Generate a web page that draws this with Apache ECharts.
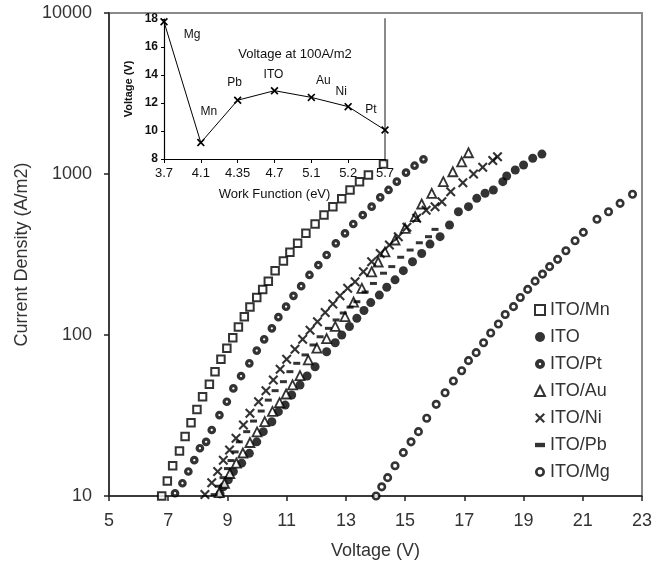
<!DOCTYPE html>
<html>
<head>
<meta charset="utf-8">
<script src="https://cdn.jsdelivr.net/npm/echarts@6/dist/echarts.min.js"></script>
<style>
html,body{margin:0;padding:0;background:#fff;}
#chart{width:665px;height:565px;}
</style>
</head>
<body>
<div id="chart"></div>
<script>
// ---------- data ----------
const voltageTicks = [5, 7, 9, 11, 13, 15, 17, 19, 21, 23];
const densityTicks = [10, 100, 1000, 10000];

const mnV = [6.78,6.97,7.15,7.38,7.57,7.77,7.97,8.16,8.39,8.58,8.78,8.98,9.18,9.37,9.57,9.76,9.99,10.19,10.38,10.61,10.89,11.11,11.37,11.65,11.96,12.26,12.56,12.86,13.14,13.46,13.76,14.27];
const mnJ = [10,12.4,15.4,19.0,23.4,28.5,34.5,41.4,49.4,59.2,70.6,82.6,96.2,112,130,149,171,192,216,251,288,326,371,428,489,556,627,703,796,896,986,1154];

const itoV = [8.75,8.86,9.03,9.20,9.48,9.74,9.99,10.21,10.50,10.72,10.95,11.17,11.45,11.69,11.96,12.35,12.64,12.86,13.12,13.37,13.61,13.84,14.13,14.38,14.66,14.94,15.25,15.56,15.84,16.18,16.50,16.80,17.14,17.42,17.70,17.98,18.30,18.43,18.72,19.00,19.31,19.62];
const itoJ = [10.3,11.4,12.6,14.2,16.0,18.4,21.7,25.1,28.9,33.4,36.7,42.4,48.9,55.6,63.5,78.7,89.5,100,113,127,142,159,177,198,220,251,285,321,367,408,482,583,627,706,759,796,896,972,1059,1137,1253,1330];

const ptV = [7.23,7.48,7.68,7.88,8.07,8.28,8.47,8.73,8.98,9.20,9.46,9.74,9.99,10.24,10.50,10.72,10.98,11.23,11.49,11.77,12.07,12.35,12.66,12.97,13.25,13.57,13.87,14.16,14.44,14.72,15.03,15.32,15.62];
const ptJ = [10.4,12.0,14.2,16.7,19.8,21.7,25.7,31.8,38.5,46.6,55.6,66.7,80.0,94.0,110,129,150,175,201,236,272,314,371,428,489,556,627,716,796,896,1019,1126,1233];

const auV = [8.72,8.90,9.08,9.30,9.52,9.76,10.00,10.26,10.52,10.76,10.98,11.20,11.45,11.73,12.02,12.35,12.64,12.97,13.26,13.54,13.87,14.09,14.32,14.66,15.00,15.34,15.56,15.90,16.29,16.61,16.91,17.14];
const auJ = [10.5,12.0,13.8,16.0,18.5,21.5,25,29,33.5,38,43,49,56,70,83,95,113,130,160,195,247,284,328,389,460,543,651,759,896,1033,1191,1355];

const niV = [8.24,8.47,8.67,8.86,9.07,9.29,9.54,9.76,10.05,10.30,10.55,10.78,11.00,11.28,11.54,11.79,12.04,12.30,12.56,12.80,13.06,13.31,13.59,13.87,14.16,14.47,14.77,15.06,15.39,15.71,16.01,16.24,16.54,16.95,17.31,17.62,17.96,18.12];
const niJ = [10.2,12.1,14.2,16.7,19.3,22.8,27.6,32.6,38.5,45.1,52.5,61.2,70.6,81.5,94.0,107,121,138,156,175,195,214,247,285,321,362,408,467,531,595,627,673,776,883,1000,1102,1211,1280];

const pbV = [8.55,8.70,8.85,9.00,9.12,9.26,9.40,9.65,9.88,10.14,10.38,10.61,10.89,11.11,11.34,11.62,11.89,12.13,12.41,12.67,12.91,13.14,13.37,13.65,13.93,14.27,14.55,14.85,15.17,15.48,15.79,16.01];
const pbJ = [10.2,11.5,13.0,14.8,16.6,18.8,21.7,25.1,29.2,33.7,39.4,45.1,51.3,59.2,66.7,75.2,86.7,97.5,110,124,137,149,161,185,209,242,266,304,337,374,408,453];

const mgV = [14.02,14.21,14.41,14.66,14.94,15.20,15.45,15.73,16.05,16.35,16.63,16.91,17.14,17.40,17.65,17.89,18.15,18.38,18.66,18.89,19.14,19.39,19.64,19.88,20.15,20.43,20.74,21.02,21.48,21.87,22.26,22.68];
const mgJ = [10,11.4,13.0,15.4,18.6,21.7,25.1,30.4,37.1,43.8,51.8,60.0,69.3,77.7,89.6,103,117,134,150,171,192,216,239,266,295,334,385,434,523,583,657,748];

// inset
const workFunction = ['3.7', '4.1', '4.35', '4.7', '5.1', '5.2', '5.7'];
const insetVoltage = [17.8, 9.17, 12.2, 12.88, 12.4, 11.74, 10.07];
const insetLabels = ['Mg', 'Mn', 'Pb', 'ITO', 'Au', 'Ni', 'Pt'];

// ---------- layout / style (not data) ----------
const insetLabelOffsets = [[28,13],[8,-31],[-3,-18],[-1,-16],[12,-17],[-7,-15],[-14,-20]];
const FONT = '"Liberation Sans", Arial, sans-serif';
const TXT = '#333';
const crossPath = 'path://M0,1.5 L1.5,0 L5,3.5 L8.5,0 L10,1.5 L6.5,5 L10,8.5 L8.5,10 L5,6.5 L1.5,10 L0,8.5 L3.5,5 Z';
const dashPath = 'path://M0,0 L8,0 L8,3.5 L0,3.5 Z';
const ringPath = 'path://M5,0 A5,5 0 1,1 4.99,0 Z M5,2.6 A2.4,2.4 0 1,0 5.01,2.6 Z';
const dotHolePath = 'path://M5,0 A5,5 0 1,1 4.99,0 Z M5,3.8 A1.2,1.2 0 1,0 5.01,3.8 Z';

function pairs(xs, ys) { return xs.map((x, i) => [x, ys[i]]); }

const seriesDefs = [
  { name: 'ITO/Mn', v: mnV, j: mnJ, symbol: 'rect', size: 7.5, style: { color: '#fff', borderColor: '#000', borderWidth: 2 } },
  { name: 'ITO', v: itoV, j: itoJ, symbol: 'circle', size: 9, style: { color: '#000' } },
  { name: 'ITO/Pt', v: ptV, j: ptJ, symbol: 'circle', size: 5.5, style: { color: '#fff', borderColor: '#000', borderWidth: 3.2 } },
  { name: 'ITO/Au', v: auV, j: auJ, symbol: 'triangle', size: 9, style: { color: '#fff', borderColor: '#000', borderWidth: 1.8 } },
  { name: 'ITO/Ni', v: niV, j: niJ, symbol: crossPath, size: 10, style: { color: '#000' } },
  { name: 'ITO/Pb', v: pbV, j: pbJ, symbol: 'rect', size: [7, 3], style: { color: '#000' } },
  { name: 'ITO/Mg', v: mgV, j: mgJ, symbol: 'circle', size: 6.5, style: { color: '#fff', borderColor: '#000', borderWidth: 2.6 } }
];

const legendIcons = {
  'ITO/Pt': { icon: dotHolePath, itemStyle: { color: '#000', borderWidth: 0 } },
  'ITO/Pb': { icon: dashPath },
  'ITO/Mg': { icon: ringPath, itemStyle: { color: '#000', borderWidth: 0 } }
};

const series = seriesDefs.map(d => ({
  name: d.name,
  type: 'scatter',
  xAxisIndex: 0,
  yAxisIndex: 0,
  symbol: d.symbol,
  symbolSize: d.size,
  itemStyle: d.style,
  data: pairs(d.v, d.j),
  z: 5
}));

series.push({
  name: 'inset',
  type: 'line',
  xAxisIndex: 1,
  yAxisIndex: 1,
  symbol: crossPath,
  symbolSize: 8,
  itemStyle: { color: '#000' },
  lineStyle: { color: '#000', width: 1 },
  data: insetVoltage.map((v, i) => ({
    value: v,
    label: {
      show: true,
      formatter: insetLabels[i],
      position: 'inside',
      offset: insetLabelOffsets[i],
      color: '#111',
      fontSize: 12,
      fontFamily: FONT
    }
  })),
  z: 6
});

const chart = echarts.init(document.getElementById('chart'), null, { renderer: 'canvas' });
chart.setOption({
  animation: false,
  backgroundColor: '#fff',
  title: {
    text: 'Voltage at 100A/m2',
    left: 290, top: 43,
    textAlign: 'center',
    textStyle: { fontSize: 13, fontWeight: 'normal', color: '#111', fontFamily: FONT }
  },
  grid: [
    { left: 109, top: 13, right: 23, bottom: 69, show: true, borderColor: '#8a8a8a', borderWidth: 2, backgroundColor: 'transparent' },
    { left: 164, top: 19, width: 221, height: 140, show: false }
  ],
  legend: {
    orient: 'vertical',
    left: 529, top: 296,
    itemWidth: 10, itemHeight: 10, itemGap: 9,
    selectedMode: false,
    data: seriesDefs.map(d => legendIcons[d.name] ? Object.assign({ name: d.name }, legendIcons[d.name]) : d.name),
    textStyle: { fontSize: 18, color: TXT, fontFamily: FONT }
  },
  xAxis: [
    {
      type: 'value', gridIndex: 0, min: 5, max: 23,
      name: 'Voltage (V)', nameLocation: 'middle', nameGap: 46,
      nameTextStyle: { fontSize: 18, color: TXT, fontFamily: FONT },
      axisLine: { show: true, lineStyle: { color: '#222', width: 1.5 } },
      axisTick: { show: true, length: 5, customValues: voltageTicks, lineStyle: { color: '#222', width: 1.5 } },
      axisLabel: { customValues: voltageTicks, fontSize: 18, color: TXT, fontFamily: FONT, margin: 16 },
      splitLine: { show: false }
    },
    {
      type: 'category', gridIndex: 1, data: workFunction, boundaryGap: false,
      name: 'Work Function (eV)', nameLocation: 'middle', nameGap: 29,
      nameTextStyle: { fontSize: 13, color: '#111', fontFamily: FONT },
      axisLine: { lineStyle: { color: '#000', width: 1.2 } },
      axisTick: { show: true, alignWithLabel: true, length: 4, lineStyle: { color: '#000' } },
      axisLabel: { fontSize: 13, color: '#111', fontFamily: FONT, margin: 8, interval: 0 },
      splitLine: { show: false }
    }
  ],
  yAxis: [
    {
      type: 'log', gridIndex: 0, logBase: 10, min: 10, max: 10000,
      name: 'Current Density (A/m2)', nameLocation: 'middle', nameGap: 76,
      nameTextStyle: { fontSize: 18, color: TXT, fontFamily: FONT },
      axisLine: { show: true, lineStyle: { color: '#222', width: 1.5 } },
      axisTick: { show: true, length: 5, lineStyle: { color: '#222', width: 1.5 } },
      axisLabel: {
        fontSize: 18, color: TXT, fontFamily: FONT, margin: 17,
        formatter: v => String(densityTicks.find(t => Math.abs(t - v) / t < 1e-6) || Math.round(v))
      },
      minorTick: { show: false },
      splitLine: { show: false }
    },
    {
      type: 'value', gridIndex: 1, min: 8, max: 18, interval: 2,
      name: 'Voltage (V)', nameLocation: 'middle', nameGap: 30,
      nameTextStyle: { fontSize: 11, color: '#111', fontFamily: FONT, fontWeight: 'bold' },
      axisLine: { show: true, lineStyle: { color: '#000', width: 1.2 } },
      axisTick: { show: true, length: 3, lineStyle: { color: '#000' } },
      axisLabel: { fontSize: 12, color: '#111', fontFamily: FONT, fontWeight: 'bold', margin: 6 },
      splitLine: { show: false }
    },
    {
      type: 'value', gridIndex: 1, min: 8, max: 18, position: 'right',
      axisLine: { show: true, lineStyle: { color: '#8a8a8a', width: 2 } },
      axisTick: { show: false }, axisLabel: { show: false }, splitLine: { show: false }
    }
  ],
  series: series
});
</script>
</body>
</html>
